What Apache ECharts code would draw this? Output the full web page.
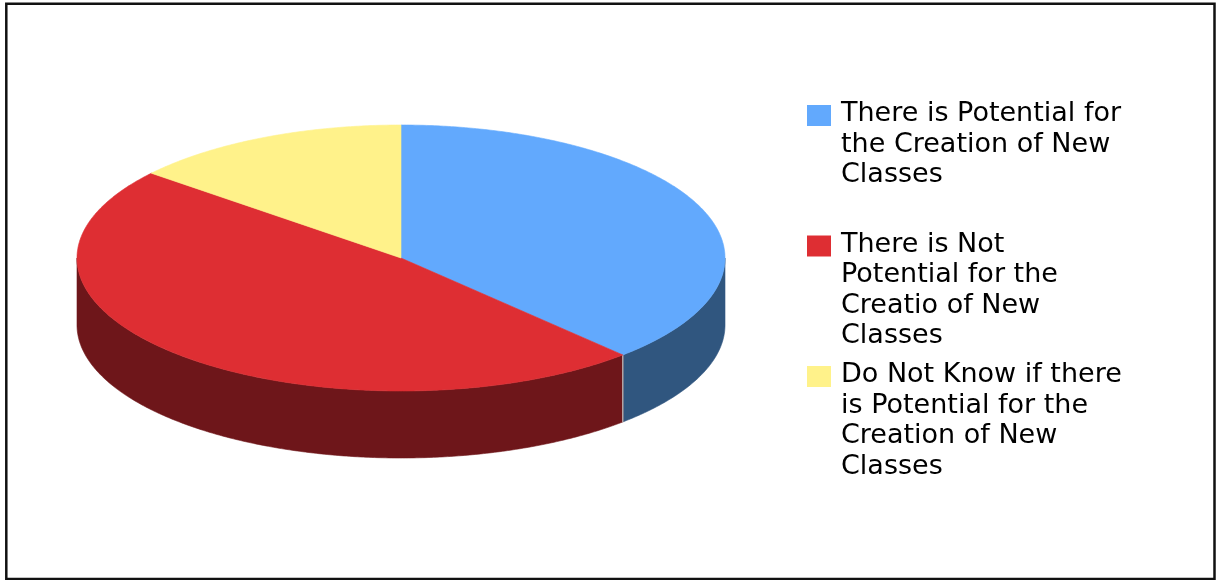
<!DOCTYPE html>
<html>
<head>
<meta charset="utf-8">
<script src="https://cdn.jsdelivr.net/npm/echarts@6/dist/echarts.min.js"></script>
<style>
  html, body { margin: 0; padding: 0; background: #fff; }
  #chart { width: 1216px; height: 580px; }
</style>
</head>
<body>
<div id="chart"></div>
<script>
// Survey answers, in drawing order (clockwise from 12 o'clock)
const categories = [
  'There is Potential for\nthe Creation of New\nClasses',
  'There is Not\nPotential for the\nCreatio of New\nClasses',
  'Do Not Know if there\nis Potential for the\nCreation of New\nClasses'
];
const values = [38, 48, 14];
const topColors = ['#62a9fd', '#de2e33', '#fff28a'];
const sideColors = ['#30567f', '#6e161a', '#8a8040'];

// Tilted pie geometry (pixels)
const PIE = { cx: 401, cy: 258, rx: 324, ry: 133, depth: 67 };

const total = values.reduce((a, b) => a + b, 0);
const startDeg = [];
let acc = 0;
values.forEach(v => { startDeg.push(acc / total * 360); acc += v; });

function pt(deg, dy) {
  const t = deg * Math.PI / 180;
  return [PIE.cx + PIE.rx * Math.sin(t), PIE.cy - PIE.ry * Math.cos(t) + (dy || 0)];
}
function arc(a, b, dy) {
  const pts = [];
  const n = Math.max(2, Math.ceil(Math.abs(b - a) / 0.5));
  for (let i = 0; i <= n; i++) pts.push(pt(a + (b - a) * i / n, dy));
  return pts;
}

function renderItem(params, api) {
  const idx = params.dataIndex;
  const v = api.value(0);
  const a = startDeg[idx];
  const b = a + v / total * 360;
  const children = [];

  // front wall: only the part of the rim facing the viewer (90..270 deg)
  const fa = Math.max(a, 90), fb = Math.min(b, 270);
  if (fb > fa) {
    const pts = arc(fa, fb, 0).concat(arc(fb, fa, PIE.depth));
    children.push({
      type: 'polygon', z2: 0,
      shape: { points: pts },
      style: { fill: sideColors[idx], stroke: sideColors[idx], lineWidth: 0.6 }
    });
    // light seam where two walls meet
    [a, b].forEach(d => {
      if (d > 90 && d < 270) {
        const p = pt(d, 0), q = pt(d, PIE.depth);
        children.push({
          type: 'line', z2: 5,
          shape: { x1: p[0], y1: p[1], x2: q[0], y2: q[1] },
          style: { stroke: '#b9aeae', lineWidth: 1 }
        });
      }
    });
  }

  // top face
  const topPts = [[PIE.cx, PIE.cy]].concat(arc(a, b, 0));
  children.push({
    type: 'polygon', z2: 10,
    shape: { points: topPts },
    style: { fill: topColors[idx], stroke: topColors[idx], lineWidth: 0.6 }
  });

  return { type: 'group', children: children };
}

// Legend built from the category list
const legendX = 807, legendTop = 105, legendPitch = 130.5;
const legendGraphics = [];
categories.forEach((name, i) => {
  const y = legendTop + i * legendPitch;
  legendGraphics.push({
    type: 'rect',
    shape: { x: legendX, y: y, width: 24, height: 21 },
    style: { fill: topColors[i] }
  });
  legendGraphics.push({
    type: 'text',
    x: legendX + 34, y: y - 6,
    style: {
      text: name,
      font: '27px "DejaVu Sans"',
      lineHeight: 30.5,
      fill: '#000',
      verticalAlign: 'top',
      align: 'left'
    }
  });
});

const chart = echarts.init(document.getElementById('chart'), null, { renderer: 'canvas' });
chart.setOption({
  animation: false,
  backgroundColor: '#fff',
  graphic: [
    {
      type: 'rect',
      shape: { x: 6.3, y: 3.7, width: 1208.2, height: 575.3 },
      style: { fill: 'none', stroke: '#111', lineWidth: 2.5 }
    }
  ].concat(legendGraphics),
  series: [{
    type: 'custom',
    coordinateSystem: 'none',
    renderItem: renderItem,
    data: values.map(v => [v])
  }]
});
</script>
</body>
</html>
